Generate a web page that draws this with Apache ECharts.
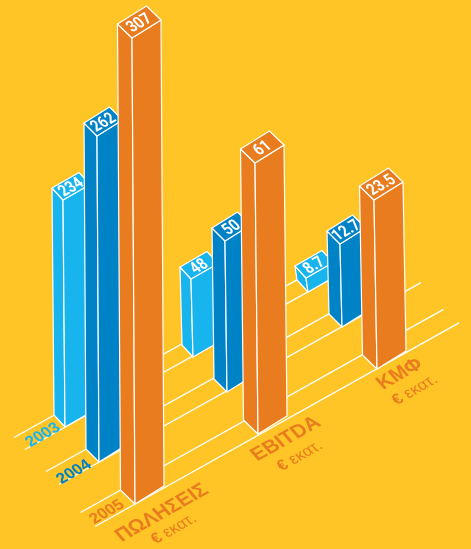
<!DOCTYPE html>
<html><head><meta charset="utf-8">
<style>html,body{margin:0;padding:0;background:#FFC425}#c{width:471px;height:549px}</style>
<script src="https://cdn.jsdelivr.net/npm/echarts@6/dist/echarts.min.js"></script>
</head><body><div id="c"></div>
<script>
// Chart content
const categories = ['ΠΩΛΗΣΕΙΣ', 'EBITDA', 'ΚΜΦ'];
const unitSymbol = '€';
const unitWord = 'εκατ.';
const years = ['2003', '2004', '2005'];
const values2003 = [234, 48, 8.7];
const values2004 = [262, 50, 12.7];
const values2005 = [307, 61, 23.5];
// The picture's columns are not in proportion to the numbers printed on them,
// so the column heights as drawn are read off separately.
const heights2003 = [227, 78, 14];
const heights2004 = [326, 151, 83];
const heights2005 = [466, 271, 169];

const ORANGE = '#E87C1E', BLUE = '#0082C6', SKY = '#17B4ED', BG = '#FFC425';
const rowValues = [values2003, values2004, values2005];
const rowHeights = [heights2003, heights2004, heights2005];
const rowColors = [SKY, BLUE, ORANGE];

// Isometric projection of the axes' plane
const floorLift = -122;
const rowStep = [[0, 0], [34, 35], [69, 77]];
const groupBend = [[-1, 0], [6, -70], [0, -135]];
const rowNudge = [[0, 0, 1], [0, 0, -4], [0, 0, 0]];
const rowDepth = [[11, 12], [13, 13], [14.5, 14]];
const rowWidth = [[27, -15.5], [25.5, -16], [29, -18]];
const rowLean = [2, 2, 3];
const ANGLE = 29.5 * Math.PI / 180;
const lineStart = [40, -22.5];
const backEnd = [25, 30, 81];
const frontEnd = [30, 79, 82];

function floorPoint(api, g, r, h) {
  const p = api.coord([g, h || 0]);
  return [p[0] + groupBend[g][0] + rowStep[r][0] + rowNudge[g][r], p[1] + floorLift + groupBend[g][1] + rowStep[r][1]];
}
function rowRenderer(r) {
  return function (params, api) {
    const g = api.value(0), h = api.value(1);
    const base = floorPoint(api, g, r, 0);
    const top = floorPoint(api, g, r, h);
    top[0] -= rowLean[r];
    const d = rowDepth[r], w = rowWidth[r], color = rowColors[r];
    const shift = (p, a, s) => [p[0] + a[0] * s, p[1] + a[1] * s];
    const bl = shift(base, d, -1), br = shift(base, w, 1);
    const tl = shift(top, d, -1), tr = shift(top, w, 1), tb = shift(tl, w, 1);
    const style = { fill: color, stroke: '#fff', lineWidth: 1.2, lineJoin: 'round' };
    const poly = pts => ({ type: 'polygon', shape: { points: pts }, style });
    const cx = (tl[0] + tr[0]) / 2, cy = (tl[1] + tr[1]) / 2;
    return {
      type: 'group',
      children: [
        poly([tl, top, base, bl]),
        poly([top, tr, br, base]),
        poly([tl, tb, tr, top]),
        { type: 'text', x: cx + 0.5, y: cy + 1.5, rotation: ANGLE, scaleX: 0.82, skewX: 0.23,
          style: { text: String(rowValues[r][g]), fill: '#fff', align: 'center', verticalAlign: 'middle',
                   font: 'bold 17px "Roboto", "Liberation Sans", sans-serif' } }
      ]
    };
  };
}
function floorRenderer(params, api) {
  const r = params.dataIndex;
  const shift = (p, a, s) => [p[0] + a[0] * s, p[1] + a[1] * s];
  const d = rowDepth[r];
  const line = (a, b) => ({ type: 'line', shape: { x1: a[0], y1: a[1], x2: b[0], y2: b[1] },
    style: { stroke: '#fff', lineWidth: 1.4 } });
  const f0 = floorPoint(api, 0, r), f2 = floorPoint(api, 2, r);
  const b0 = shift(f0, d, -1), b2 = shift(f2, d, -1);
  const slope = lineStart[1] / lineStart[0];
  return { type: 'group', children: [
    line(shift(b0, lineStart, -1), [b2[0] + backEnd[r], b2[1] + backEnd[r] * slope]),
    line(shift(f0, lineStart, -1), [f2[0] + frontEnd[r], f2[1] + frontEnd[r] * slope])
  ] };
}
const yearOffset = [[-22, 8], [-25, 10], [-28, 8]];
const groupOffset = [[27, 9], [28, 5], [23, 5]];
const unitOffset = [[39, 25], [42, 22], [38, 21]];
function textItem(x, y, text, fill, font, extra) {
  return { type: 'text', x, y, rotation: ANGLE, skewX: 0.2,
    style: Object.assign({ text, fill, font, align: 'center', verticalAlign: 'middle' }, extra || {}) };
}
function yearRenderer(params, api) {
  const r = params.dataIndex, p = floorPoint(api, 0, r);
  return textItem(p[0] + yearOffset[r][0], p[1] + yearOffset[r][1], years[r], rowColors[r],
    'bold 16px "Liberation Sans", sans-serif');
}
function groupRenderer(params, api) {
  const g = params.dataIndex, p = floorPoint(api, g, 2);
  return { type: 'group', children: [
    textItem(p[0] + groupOffset[g][0], p[1] + groupOffset[g][1], categories[g], ORANGE,
      'bold 20px "Liberation Sans", sans-serif'),
    textItem(p[0] + unitOffset[g][0], p[1] + unitOffset[g][1], '{s|' + unitSymbol + '} ' + unitWord, ORANGE,
      '16px "Liberation Sans", sans-serif',
      { rich: { s: { font: 'bold 16px "Liberation Sans", sans-serif', fill: ORANGE } } })
  ] };
}

const chart = echarts.init(document.getElementById('c'), null, { renderer: 'canvas' });
chart.setOption({
  backgroundColor: BG,
  animation: false,
  tooltip: { show: false },
  grid: { left: 66, width: 242, top: 0, height: 549 },
  xAxis: { type: 'category', data: categories, boundaryGap: false, show: false },
  yAxis: { type: 'value', min: 0, max: 549, show: false },
  series: [
    { type: 'custom', name: 'floor', renderItem: floorRenderer, data: years.map(() => [0, 0]), silent: true },
    ...years.map((y, r) => ({
      type: 'custom', name: y, renderItem: rowRenderer(r), silent: true,
      data: rowHeights[r].map((h, g) => [g, h]), encode: { x: 0, y: 1 }
    })),
    { type: 'custom', name: 'years', renderItem: yearRenderer, data: years.map(() => [0, 0]), silent: true },
    { type: 'custom', name: 'groups', renderItem: groupRenderer, data: categories.map((c, g) => [g, 0]), silent: true }
  ]
});
</script></body></html>
